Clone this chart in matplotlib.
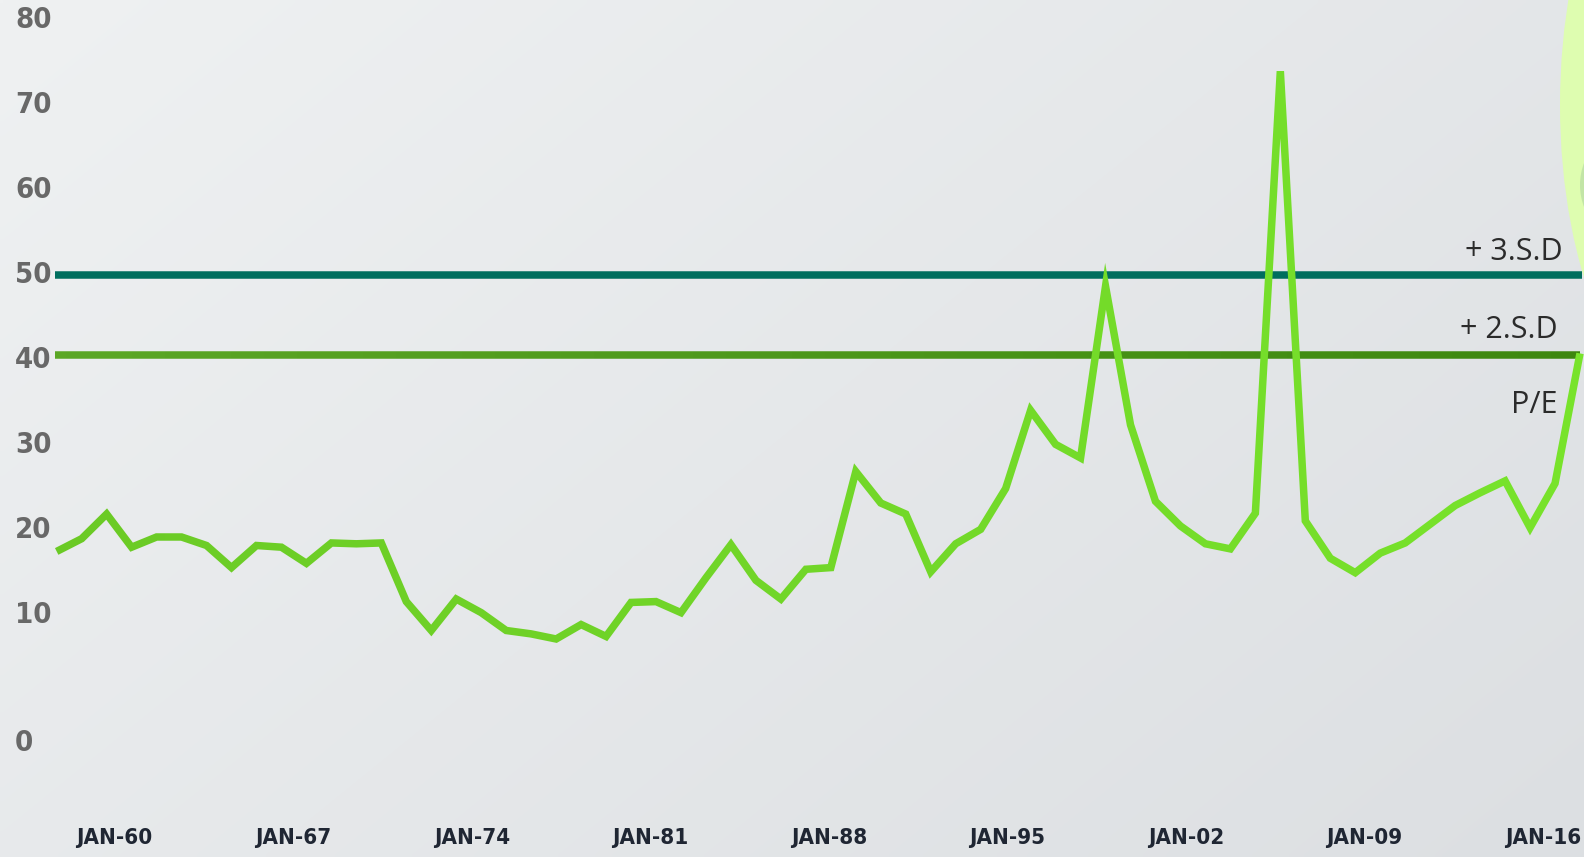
import numpy as np
import matplotlib
matplotlib.use("Agg")
import matplotlib.pyplot as plt
from matplotlib import font_manager as fm
from matplotlib.patches import Ellipse, Circle
from matplotlib.transforms import Bbox, TransformedBbox, blended_transform_factory
from matplotlib.colors import to_rgb

# ---------------- data ----------------
pe_values = [17.5, 19.0, 21.9, 18.0, 19.2, 19.2, 18.2, 15.6, 18.2, 18.0,
             16.1, 18.5, 18.4, 18.5, 11.6, 8.2, 11.9, 10.3, 8.2, 7.8,
             7.2, 8.9, 7.5, 11.5, 11.6, 10.3, 14.4, 18.3, 14.1, 11.9,
             15.4, 15.6, 26.9, 23.2, 21.9, 15.1, 18.4, 20.1, 24.9, 34.1,
             30.1, 28.5, 48.7, 32.4, 23.4, 20.5, 18.4, 17.8, 22.0, 74.0,
             21.1, 16.7, 15.0, 17.3, 18.5, 20.7, 22.9, 24.4, 25.8, 20.3,
             25.5, 40.8]
sd3_value = 50.0
sd2_value = 40.6
x_tick_labels = ["JAN-60", "JAN-67", "JAN-74", "JAN-81", "JAN-88",
                 "JAN-95", "JAN-02", "JAN-09", "JAN-16"]
y_tick_labels = ["0", "10", "20", "30", "40", "50", "60", "70", "80"]
series_labels = ["+ 3.S.D", "+ 2.S.D", "P/E"]

# ---------------- layout constants ----------------
W, H = 1584, 857
x_tick_pos = [2.32 + 7.15 * k for k in range(len(x_tick_labels))]
y_tick_pos = [-5, 10, 20, 30, 40, 50, 60, 70, 80]


# pick the narrowest bold sans available
def pick_condensed():
    best = None
    for f in fm.fontManager.ttflist:
        nm = f.name + " " + str(f.fname)
        cond = ("Narrow" in nm or "Condensed" in nm or
                str(f.stretch) in ("condensed", "semi-condensed",
                                   "extra-condensed", "ultra-condensed"))
        if not cond or "Mono" in nm or "Serif" in nm:
            continue
        w = f.weight if isinstance(f.weight, int) else 400
        score = abs(w - 700)
        if best is None or score < best[0]:
            best = (score, f.fname)
    if best is not None:
        return fm.FontProperties(fname=best[1])
    return fm.FontProperties(family="Roboto", weight="bold")


cond_fp = pick_condensed()
is_condensed = cond_fp.get_file() is not None

fig = plt.figure(figsize=(W / 100, H / 100), dpi=100)

# background gradient + decoration
bg = fig.add_axes([0, 0, 1, 1], zorder=0)
gx = np.linspace(0, 1, 256)[None, :]
gy = np.linspace(0, 1, 160)[:, None]
t = (gx * 0.6 + gy * 0.4)
c_tl = np.array(to_rgb("#eff1f2"))
c_br = np.array(to_rgb("#dcdfe2"))
img = c_tl[None, None, :] * (1 - t[..., None]) + c_br[None, None, :] * t[..., None]
bg.imshow(img, extent=(0, W, H, 0), aspect="auto", interpolation="bilinear")
bg.add_patch(Ellipse((1702, 105), 284, 620, facecolor="#defdb0", edgecolor="none"))
bg.add_patch(Circle((1642, 185), 62, facecolor="#c2e5a6", edgecolor="none"))
bg.set_xlim(0, W)
bg.set_ylim(H, 0)
bg.axis("off")

ax = fig.add_axes([0, 0, 1, 1], zorder=1)
ax.patch.set_alpha(0)
ax.set_xlim(-2.27, 61.16)
ax.set_ylim(-18.45, 82.38)
for s in ax.spines.values():
    s.set_visible(False)


def blend(c0, c1, f):
    a, b = np.array(to_rgb(c0)), np.array(to_rgb(c1))
    return tuple(a * (1 - f) + b * f)


def gradient_plot(xs, ys, c0, c1, n=48, **kw):
    for k in range(n):
        f0, f1 = k / n, (k + 1) / n
        ln, = ax.plot(xs, ys, color=blend(c0, c1, (k + 0.5) / n), **kw)
        ln.set_clip_box(TransformedBbox(Bbox([[f0, 0], [f1, 1]]), ax.transAxes))


x = np.arange(len(pe_values))
x_first, x_last = x[0] - 0.07, x[-1] + 0.07

# +3 SD line
ax.plot([x_first, x_last], [sd3_value, sd3_value], color="#006e5e", lw=5.4,
        solid_capstyle="butt", zorder=2)
# +2 SD line (gradient)
gradient_plot([x_first, x[-1]], [sd2_value, sd2_value], "#5ca826", "#3d870f",
              lw=5.4, solid_capstyle="butt", zorder=2)
# P/E line (gradient)
gradient_plot(x, pe_values, "#6ac925", "#78e32b", lw=5.4,
              solid_joinstyle="miter", solid_capstyle="butt", zorder=3)

# series labels
tr = blended_transform_factory(ax.transAxes, ax.transData)
lab_font = dict(family=["Open Sans", "DejaVu Sans"], fontsize=22, color="#2b2b2b")
ax.text(1563 / W, 52.7, series_labels[0], transform=tr, ha="right", va="center", **lab_font)
ax.text(1558 / W, 43.6, series_labels[1], transform=tr, ha="right", va="center", **lab_font)
ax.text(1558 / W, 34.7, series_labels[2], transform=tr, ha="right", va="center", **lab_font)

# ticks
y_fp = cond_fp.copy()
x_fp = cond_fp.copy()
if is_condensed:
    y_fp.set_size(21)
    x_fp.set_size(16)
else:
    y_fp.set_size(19)
    x_fp.set_size(14)
y_fp.set_weight("bold")
x_fp.set_weight("bold")

ax.set_yticks(y_tick_pos)
ax.set_yticklabels(y_tick_labels, fontproperties=y_fp, color="#686868")
ax.tick_params(axis="y", length=0, pad=-15 * 72 / 100)
for lab in ax.get_yticklabels():
    lab.set_ha("left")
    lab.set_va("center")

ax.set_xticks(x_tick_pos)
ax.set_xticklabels(x_tick_labels, fontproperties=x_fp, color="#1f2633")
ax.tick_params(axis="x", length=0, pad=-19 * 72 / 100)
for lab in ax.get_xticklabels():
    lab.set_va("center")

fig.savefig("out.png", dpi=100)
